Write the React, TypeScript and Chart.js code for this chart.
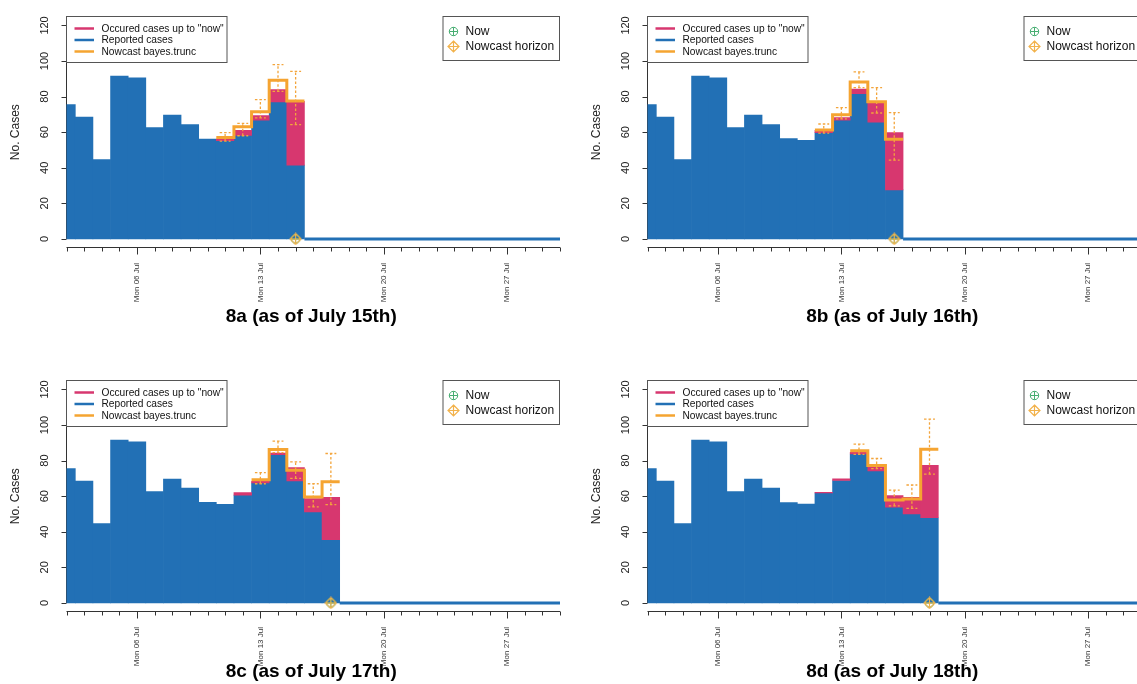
import React, { useEffect, useRef } from "react";
import { Chart, registerables } from "chart.js";

Chart.register(...registerables);

// ---------------- data ----------------
const FIRST_DAY = 2; // 2 July
const LAST_DAY = 30; // 30 July
const OCCURRED_START = 11; // first day of the "occurred" arrays

const yTickValues = [0, 20, 40, 60, 80, 100, 120];
const mondayDays = [6, 13, 20, 27];
const mondayLabels = ["Mon 06 Jul", "Mon 13 Jul", "Mon 20 Jul", "Mon 27 Jul"];

const panelTitles = [
  "8a (as of July 15th)",
  "8b (as of July 16th)",
  "8c (as of July 17th)",
  "8d (as of July 18th)",
];
const nowDays = [15, 16, 17, 18];

const legendLabels = ['Occured cases up to "now"', "Reported cases", "Nowcast bayes.trunc"];
const markerLabels = ["Now", "Nowcast horizon"];

// reported cases, from 2 July up to "now"
const reported8a = [75.5, 68.5, 44.6, 91.5, 90.6, 62.6, 69.6, 64.3, 56.2, 55.3, 58.2, 66.8, 77.0, 41.5];
const reported8b = [75.5, 68.5, 44.6, 91.5, 90.6, 62.6, 69.6, 64.3, 56.4, 55.4, 59.8, 66.8, 81.6, 65.7, 27.6];
const reported8c = [75.5, 68.5, 44.6, 91.5, 90.6, 62.6, 69.6, 64.5, 56.5, 55.5, 60.6, 67.5, 83.4, 68.6, 51.2, 35.6];
const reported8d = [75.5, 68.5, 44.6, 91.5, 90.6, 62.6, 69.6, 64.5, 56.4, 55.6, 61.8, 68.8, 83.7, 74.2, 53.8, 50.1, 47.9];

// occurred cases up to "now", from 11 July
const occurred8a = [56.2, 61.0, 69.3, 84.0, 77.4];
const occurred8b = [55.4, 61.0, 68.2, 84.2, 77.2, 59.8];
const occurred8c = [55.5, 62.0, 68.4, 84.2, 76.1, 58.7, 59.3];
const occurred8d = [55.6, 62.2, 69.7, 84.7, 76.6, 60.4, 59.4, 77.4];

// nowcast (last five days up to "now") with interval limits
const nowcast8a = [57.0, 63.0, 71.5, 89.2, 77.6];
const nowcastLo8a = [55.0, 58.0, 68.0, 83.0, 64.3];
const nowcastHi8a = [59.8, 65.0, 78.3, 98.0, 94.2];

const nowcast8b = [61.3, 69.8, 88.2, 77.1, 56.0];
const nowcastLo8b = [59.5, 67.5, 85.0, 70.8, 44.3];
const nowcastHi8b = [64.6, 73.8, 93.9, 85.1, 71.0];

const nowcast8c = [69.3, 86.3, 74.6, 59.6, 68.1];
const nowcastLo8c = [67.0, 84.5, 70.0, 54.0, 55.3];
const nowcastHi8c = [73.2, 91.0, 79.3, 67.0, 84.0];

const nowcast8d = [85.5, 77.3, 57.8, 58.4, 86.4];
const nowcastLo8d = [83.5, 75.5, 54.6, 53.2, 72.4];
const nowcastHi8d = [89.3, 81.2, 63.4, 66.3, 103.3];

const panelData = [
  { reported: reported8a, occurred: occurred8a, nowcast: nowcast8a, lo: nowcastLo8a, hi: nowcastHi8a },
  { reported: reported8b, occurred: occurred8b, nowcast: nowcast8b, lo: nowcastLo8b, hi: nowcastHi8b },
  { reported: reported8c, occurred: occurred8c, nowcast: nowcast8c, lo: nowcastLo8c, hi: nowcastHi8c },
  { reported: reported8d, occurred: occurred8d, nowcast: nowcast8d, lo: nowcastLo8d, hi: nowcastHi8d },
];

// ---------------- layout & style ----------------
const CANVAS_W = 581;
const CANVAS_H = 364;
const PLOT_LEFT = 66.5;
const PLOT_RIGHT = 560;
const PLOT_TOP = 16.9;
const PLOT_BOTTOM = 247.5;
const Y_MIN = -4.8;
const Y_MAX = 124.8;

const panelPos = [
  { left: 0, top: 0, titleY: 316.5 },
  { left: 581, top: 0, titleY: 316.5 },
  { left: 0, top: 364, titleY: 308 },
  { left: 581, top: 364, titleY: 308 },
];

const FONT = '"Liberation Sans", Arial, Helvetica, sans-serif';
const BLUE = "#2270b5";
const MAGENTA = "#d7376f";
const ORANGE = "#f5a431";
const ERR_ORANGE = "#f3a53c";
const NOW_GREEN = "#45ad70";
const HORIZON_ORANGE = "#f2b24b";
const AXIS_COLOR = "#333";
const TEXT_COLOR = "#111";

let nowSymbolCache: HTMLCanvasElement | null = null;
let horizonSymbolCache: HTMLCanvasElement | null = null;

function nowSymbol(): HTMLCanvasElement {
  if (nowSymbolCache) return nowSymbolCache;
  const c = document.createElement("canvas");
  c.width = 11;
  c.height = 11;
  const g = c.getContext("2d")!;
  g.strokeStyle = NOW_GREEN;
  g.lineWidth = 1;
  g.beginPath();
  g.arc(5.5, 5.5, 4.2, 0, Math.PI * 2);
  g.moveTo(1.3, 5.5);
  g.lineTo(9.7, 5.5);
  g.moveTo(5.5, 1.3);
  g.lineTo(5.5, 9.7);
  g.stroke();
  nowSymbolCache = c;
  return c;
}

function horizonSymbol(): HTMLCanvasElement {
  if (horizonSymbolCache) return horizonSymbolCache;
  const c = document.createElement("canvas");
  c.width = 13;
  c.height = 13;
  const g = c.getContext("2d")!;
  g.strokeStyle = HORIZON_ORANGE;
  g.lineWidth = 1.2;
  g.beginPath();
  g.moveTo(6.5, 1);
  g.lineTo(12, 6.5);
  g.lineTo(6.5, 12);
  g.lineTo(1, 6.5);
  g.closePath();
  g.moveTo(1, 6.5);
  g.lineTo(12, 6.5);
  g.moveTo(6.5, 1);
  g.lineTo(6.5, 12);
  g.stroke();
  horizonSymbolCache = c;
  return c;
}

const rStylePlugin = {
  id: "rStyle",
  beforeDatasetsDraw(chart: any) {
    const ctx = chart.ctx;
    const area = chart.chartArea;
    const xs = chart.scales.x;
    const ys = chart.scales.y;
    ctx.save();
    ctx.setLineDash([]);
    ctx.strokeStyle = AXIS_COLOR;
    ctx.lineWidth = 1;
    // y axis
    const ax = Math.floor(area.left) + 0.5;
    ctx.beginPath();
    ctx.moveTo(ax, ys.getPixelForValue(yTickValues[0]));
    ctx.lineTo(ax, ys.getPixelForValue(yTickValues[yTickValues.length - 1]));
    for (const v of yTickValues) {
      const py = Math.round(ys.getPixelForValue(v)) + 0.5;
      ctx.moveTo(ax, py);
      ctx.lineTo(ax - 5, py);
    }
    // x axis
    const by = Math.floor(area.bottom) + 0.5;
    ctx.moveTo(xs.getPixelForValue(FIRST_DAY), by);
    ctx.lineTo(xs.getPixelForValue(LAST_DAY), by);
    for (let d = FIRST_DAY; d <= LAST_DAY; d++) {
      const px = Math.round(xs.getPixelForValue(d)) + 0.5;
      const len = mondayDays.includes(d) ? 7 : 4;
      ctx.moveTo(px, by);
      ctx.lineTo(px, by + len);
    }
    ctx.stroke();

    // y tick labels (rotated, R style)
    ctx.fillStyle = "#222";
    ctx.font = `11px ${FONT}`;
    ctx.textAlign = "center";
    ctx.textBaseline = "middle";
    for (const v of yTickValues) {
      ctx.save();
      ctx.translate(area.left - 22, ys.getPixelForValue(v));
      ctx.rotate(-Math.PI / 2);
      ctx.fillText(String(v), 0, 0);
      ctx.restore();
    }
    // y axis title
    ctx.font = `12px ${FONT}`;
    ctx.save();
    ctx.translate(16, (area.top + area.bottom) / 2);
    ctx.rotate(-Math.PI / 2);
    ctx.fillText("No. Cases", 0, 0);
    ctx.restore();
    ctx.restore();
  },
  afterDatasetsDraw(chart: any, _args: any, opts: any) {
    const ctx = chart.ctx;
    const xs = chart.scales.x;
    const ys = chart.scales.y;
    const dayW = Math.abs(xs.getPixelForValue(1) - xs.getPixelForValue(0));
    const capHalf = dayW * 0.31;
    ctx.save();
    ctx.strokeStyle = ERR_ORANGE;
    ctx.lineWidth = 1.3;
    ctx.setLineDash([2.5, 2]);
    const start = opts.now - opts.lo.length + 1;
    for (let i = 0; i < opts.lo.length; i++) {
      const px = xs.getPixelForValue(start + i);
      const pLo = ys.getPixelForValue(opts.lo[i]);
      const pHi = ys.getPixelForValue(opts.hi[i]);
      ctx.beginPath();
      ctx.moveTo(px, pLo);
      ctx.lineTo(px, pHi);
      ctx.stroke();
      ctx.beginPath();
      ctx.moveTo(px - capHalf, pLo);
      ctx.lineTo(px + capHalf, pLo);
      ctx.moveTo(px - capHalf, pHi);
      ctx.lineTo(px + capHalf, pHi);
      ctx.stroke();
    }
    ctx.restore();
  },
  afterDraw(chart: any, _args: any, opts: any) {
    const ctx = chart.ctx;
    const area = chart.chartArea;
    ctx.save();
    ctx.setLineDash([]);
    // left legend
    const lx = Math.floor(area.left) + 0.5;
    const ly = Math.floor(area.top) + 0.5;
    ctx.fillStyle = "#fff";
    ctx.fillRect(lx, ly, 160.5, 46);
    ctx.strokeStyle = "#555";
    ctx.lineWidth = 1;
    ctx.strokeRect(lx, ly, 160.5, 46);
    const lineColors = [MAGENTA, BLUE, ORANGE];
    ctx.font = `10.2px ${FONT}`;
    ctx.textAlign = "left";
    ctx.textBaseline = "middle";
    for (let i = 0; i < legendLabels.length; i++) {
      const ry = ly + 12 + i * 11.5;
      ctx.strokeStyle = lineColors[i];
      ctx.lineWidth = 2.5;
      ctx.beginPath();
      ctx.moveTo(lx + 8, ry);
      ctx.lineTo(lx + 27.5, ry);
      ctx.stroke();
      ctx.fillStyle = TEXT_COLOR;
      ctx.fillText(legendLabels[i], lx + 35, ry + 0.5);
    }
    // right legend
    const rw = 116.5;
    const rx = Math.floor(area.right) - 0.5 - rw;
    ctx.fillStyle = "#fff";
    ctx.fillRect(rx, ly, rw, 44);
    ctx.strokeStyle = "#555";
    ctx.lineWidth = 1;
    ctx.strokeRect(rx, ly, rw, 44);
    ctx.font = `12px ${FONT}`;
    const syms = [nowSymbol(), horizonSymbol()];
    for (let i = 0; i < markerLabels.length; i++) {
      const ry = ly + 15 + i * 15;
      const s = syms[i];
      ctx.drawImage(s, rx + 10.5 - s.width / 2, ry - s.height / 2);
      ctx.fillStyle = TEXT_COLOR;
      ctx.fillText(markerLabels[i], rx + 22.5, ry + 0.5);
    }
    // panel title
    ctx.fillStyle = "#000";
    ctx.font = `bold 19px ${FONT}`;
    ctx.textAlign = "center";
    ctx.textBaseline = "middle";
    ctx.fillText(opts.title, (area.left + area.right) / 2 - 2, opts.titleY);
    ctx.restore();
  },
};

function buildConfig(idx: number) {
  const d = panelData[idx];
  const now = nowDays[idx];
  const reportedPts = d.reported.map((v, i) => ({ x: FIRST_DAY + i, y: v }));
  const occurredPts = d.occurred
    .map((v, i) => {
      const day = OCCURRED_START + i;
      const rep = d.reported[day - FIRST_DAY];
      return { x: day, y: [rep, v] as [number, number] };
    })
    .filter((p) => p.y[1] > p.y[0]);
  const ncStart = now - d.nowcast.length + 1;
  const stepPts = d.nowcast.map((v, i) => ({ x: ncStart + i - 0.5, y: v }));
  stepPts.push({ x: now + 0.5, y: d.nowcast[d.nowcast.length - 1] });
  const zeroPts = [
    { x: now + 0.5, y: 0 },
    { x: LAST_DAY, y: 0 },
  ];

  return {
    type: "bar" as const,
    data: {
      datasets: [
        {
          type: "line",
          label: "Nowcast horizon",
          data: [{ x: now, y: 0 }],
          showLine: false,
          pointStyle: horizonSymbol(),
          pointRadius: 5,
          order: -2,
          clip: false,
        },
        {
          type: "line",
          label: "Now",
          data: [{ x: now, y: 0 }],
          showLine: false,
          pointStyle: nowSymbol(),
          pointRadius: 5,
          order: -1,
          clip: false,
        },
        {
          type: "line",
          label: "Nowcast bayes.trunc",
          data: stepPts,
          borderColor: ORANGE,
          borderWidth: 3,
          stepped: "before",
          pointRadius: 0,
          fill: false,
          order: 0,
          clip: false,
        },
        {
          type: "bar",
          label: "Occured cases up to now",
          data: occurredPts,
          backgroundColor: MAGENTA,
          borderWidth: 0,
          grouped: false,
          barPercentage: 1,
          categoryPercentage: 1,
          order: 2,
          clip: 0,
        },
        {
          type: "bar",
          label: "Reported cases",
          data: reportedPts,
          backgroundColor: BLUE,
          borderWidth: 0,
          grouped: false,
          barPercentage: 1,
          categoryPercentage: 1,
          order: 3,
          clip: 0,
        },
        {
          type: "line",
          label: "zero",
          data: zeroPts,
          borderColor: BLUE,
          borderWidth: 3,
          pointRadius: 0,
          fill: false,
          order: 4,
          clip: false,
        },
      ],
    },
    options: {
      animation: false,
      responsive: false,
      maintainAspectRatio: false,
      events: [],
      layout: {
        padding: { left: 0, top: PLOT_TOP, right: CANVAS_W - PLOT_RIGHT, bottom: 0 },
      },
      plugins: {
        legend: { display: false },
        tooltip: { enabled: false },
        title: { display: false },
        rStyle: {
          title: panelTitles[idx],
          titleY: panelPos[idx].titleY,
          now,
          lo: d.lo,
          hi: d.hi,
        },
      },
      scales: {
        x: {
          type: "linear",
          min: FIRST_DAY,
          max: LAST_DAY,
          offset: false,
          grid: { display: false, drawTicks: false },
          border: { display: false },
          afterBuildTicks: (s: any) => {
            s.ticks = mondayDays.map((v) => ({ value: v }));
          },
          afterFit: (s: any) => {
            s.height = CANVAS_H - PLOT_BOTTOM;
          },
          ticks: {
            autoSkip: false,
            minRotation: 90,
            maxRotation: 90,
            padding: 15.5,
            color: "#333",
            font: { size: 8, family: FONT },
            callback: (v: any) => {
              const i = mondayDays.indexOf(Number(v));
              return i >= 0 ? mondayLabels[i] : "";
            },
          },
        },
        y: {
          type: "linear",
          min: Y_MIN,
          max: Y_MAX,
          grid: { display: false, drawTicks: false },
          border: { display: false },
          ticks: { display: false },
          afterBuildTicks: (s: any) => {
            s.ticks = yTickValues.map((v) => ({ value: v }));
          },
          afterFit: (s: any) => {
            s.width = PLOT_LEFT;
          },
        },
      },
    },
    plugins: [rStylePlugin],
  };
}

function Panel({ idx }: { idx: number }) {
  const ref = useRef<HTMLCanvasElement | null>(null);
  useEffect(() => {
    if (!ref.current) return;
    const chart = new Chart(ref.current, buildConfig(idx) as any);
    return () => chart.destroy();
  }, [idx]);
  const pos = panelPos[idx];
  return (
    <canvas
      ref={ref}
      width={CANVAS_W}
      height={CANVAS_H}
      style={{
        position: "absolute",
        left: pos.left,
        top: pos.top,
        width: CANVAS_W,
        height: CANVAS_H,
      }}
    />
  );
}

export default function App() {
  return (
    <div
      style={{
        position: "fixed",
        left: 0,
        top: 0,
        width: 1137,
        height: 684,
        overflow: "hidden",
        background: "#fff",
      }}
    >
      {panelTitles.map((_, i) => (
        <Panel key={i} idx={i} />
      ))}
    </div>
  );
}
